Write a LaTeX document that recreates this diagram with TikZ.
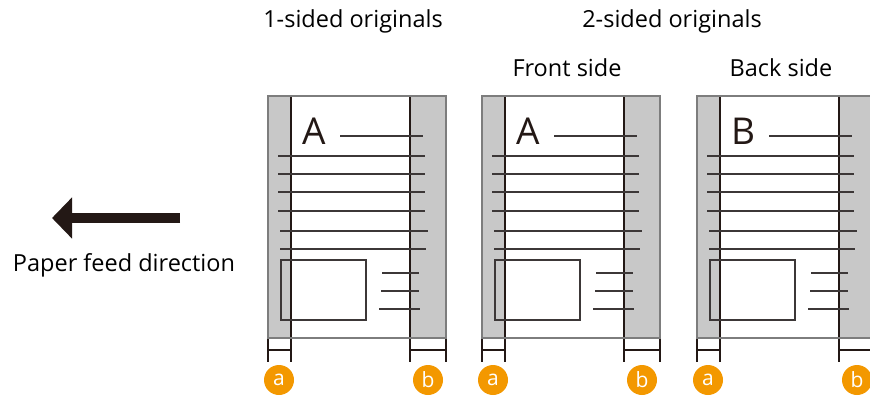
\documentclass[tikz,border=0pt]{standalone}
\usepackage{fontspec}
\setmainfont{Open Sans}
\usetikzlibrary{arrows.meta}
\definecolor{band}{RGB}{200,200,200}
\definecolor{frame}{RGB}{125,125,125}
\definecolor{ink}{RGB}{60,55,55}
\definecolor{darkink}{RGB}{35,24,21}
\definecolor{marker}{RGB}{243,152,0}
\begin{document}
\begin{tikzpicture}[x=1pt,y=-1pt,
  title/.style={font=\fontsize{23.5}{26}\selectfont, text=black},
  bandfill/.style={fill=band, draw=none},
  guide/.style={draw=darkink, line width=1.2pt},
  textline/.style={draw=ink, line width=1.8pt},
  pageframe/.style={draw=frame, line width=2.2pt, fill=none},
  letter/.style={font=\fontsize{37}{40}\selectfont, text=darkink, inner sep=0pt, anchor=base},
  badge/.style={circle, fill=marker, text=white, minimum size=30pt, inner sep=0pt, font=\fontsize{21}{22}\selectfont},
  feedarrow/.style={line width=10pt, draw=darkink, -{Triangle[length=20pt,width=40pt]}}
]
\useasboundingbox (0,0) rectangle (870,396);
\clip (0,0) rectangle (870,396);

\node[title] (t1) at (353,21) {1-sided originals};
\node[title] (t2) at (672,21) {2-sided originals};
\node[title] (t3) at (567,68) {Front side};
\node[title] (t4) at (781,68) {Back side};

\coordinate (arrE) at (180,218);
\coordinate (arrW) at (52,218);
\draw[feedarrow] (arrE) -- (arrW);
\node[title] (feed) at (124,265) {Paper feed direction};

\foreach \dx/\L [count=\i] in {0/A,214/A,429/B} {
\begin{scope}[xshift=\dx pt]
  \fill[bandfill] (268,96) rectangle (291,338);
  \fill[bandfill] (410,96) rectangle (446,338);
  % guides and ticks
  \draw[guide] (291,96) -- (291,362);
  \draw[guide] (410,96) -- (410,362);
  \draw[guide] (268,338) -- (268,362);
  \draw[guide] (446,338) -- (446,362);
  \draw[guide] (268,350) -- (291,350);
  \draw[guide] (410,350) -- (446,350);
  % content
  \node[letter] (let\i) at (314,144) {\L};
  \draw[textline] (340,136) -- (423,136);
  \foreach \yy/\xa/\xb in {156/278/425,174/278/425,192/278/425,211/278/425,231/280/428,249/280/426}
    \draw[textline] (\xa,\yy) -- (\xb,\yy);
  \draw[textline] (281,260) rectangle (366,320);
  \draw[textline] (382,273) -- (419,273);
  \draw[textline] (381,291) -- (419,291);
  \draw[textline] (379,309) -- (420,309);
  \draw[pageframe] (268,96) rectangle (446,338);
  \node[badge] (ma\i) at (279,380) {a};
  \node[badge] (mb\i) at (428,380) {b};
\end{scope}
}
\end{tikzpicture}
\end{document}
